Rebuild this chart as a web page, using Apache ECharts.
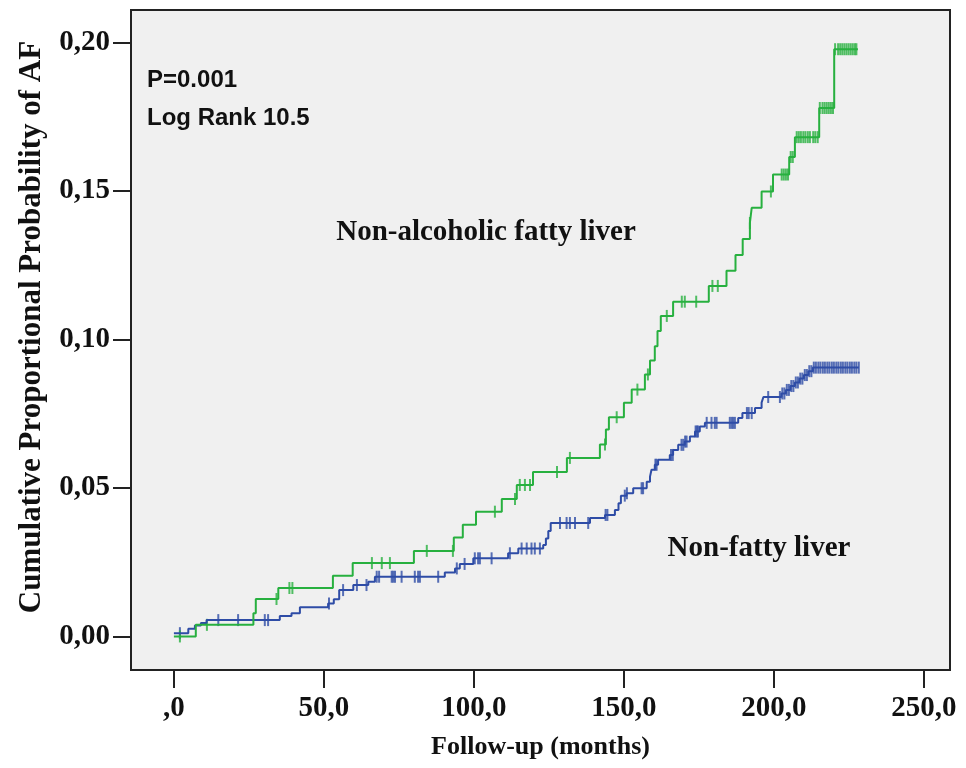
<!DOCTYPE html>
<html>
<head>
<meta charset="utf-8">
<script src="https://cdn.jsdelivr.net/npm/echarts@6/dist/echarts.min.js"></script>
<style>
  html, body { margin: 0; padding: 0; background: #ffffff; }
  #main { width: 966px; height: 768px; }
</style>
</head>
<body>
<div id="main"></div>
<script>
// ticks
var xTicks = [0, 50, 100, 150, 200, 250];
var xTickLabels = [',0', '50,0', '100,0', '150,0', '200,0', '250,0'];
var yTicks = [0, 0.05, 0.10, 0.15, 0.20];
var yTickLabels = ['0,00', '0,05', '0,10', '0,15', '0,20'];

// Non-alcoholic fatty liver: event times (months) and cumulative probability after each event
var nafldTimes = [0, 7.3, 26.5, 27.3, 34.8, 53, 59.6, 80, 93.3, 96.3, 100.7, 109.3, 114.3, 119.7, 131, 142, 144, 145,
  150, 152.6, 157, 158.7, 160.3, 161.2, 162.3, 166.4, 178.3, 184.2, 187.2, 189.6, 192, 192.6, 195.9, 199.7,
  205.1, 207, 215.1, 220.1, 228];
var nafldProb = [0, 0.0039, 0.0078, 0.0126, 0.0163, 0.0204, 0.0247, 0.0288, 0.0333, 0.0376, 0.042, 0.0463, 0.051, 0.0554, 0.0601, 0.0646, 0.0697, 0.0738,
  0.0787, 0.0831, 0.0882, 0.0929, 0.0977, 0.1028, 0.1079, 0.1127, 0.118, 0.1231, 0.1284, 0.1338, 0.1392, 0.1443, 0.1498, 0.1555,
  0.1614, 0.1681, 0.1779, 0.1977, 0.1977];
var nafldCensored = [2, 11, 34.2, 38.5, 39.5, 66, 69.3, 72, 84.3, 93, 107, 113.7, 115.3, 117, 118.7, 127.7, 132, 143.7,
  147.6, 154.5, 158, 164.3, 169.3, 170.3, 174.1, 179.5, 181.3, 192, 199,
  202.6, 203.3, 204, 204.7, 205.6, 206.3, 207.6, 208.3, 209, 209.8, 210.5, 211.3, 212, 213.1, 213.8, 214.6, 215.3,
  216.2, 216.9, 217.6, 218.3, 219, 219.7, 220.4, 221.4, 222.1, 222.8, 223.5, 224.2, 224.9, 225.6, 226.3, 227, 227.5];

// Non-fatty liver
var nonFattyTimes = [0, 4.8, 7, 9, 10.9, 35.3, 39.2, 42, 51.4, 53.3, 55.1, 59.8, 64.8, 67, 90.3, 93.7, 95.3, 99.8,
  111.4, 114.8, 123.1, 124, 124.8, 125.6, 138.7, 143.7, 147, 148.2, 149, 150.9, 153.1, 157.6, 158.7, 159.2, 160.3,
  161.4, 165.3, 166.4, 168.1, 170.3, 172, 173.7, 175.3, 177, 188.1, 189.5, 193.7, 195.9, 196.5,
  202.5, 204, 205.5, 207, 208.5, 210, 211.5, 213, 228.3];
var nonFattyProb = [0.0011, 0.0026, 0.0037, 0.0045, 0.0055, 0.0069, 0.0078, 0.0098, 0.0111, 0.0125, 0.0156, 0.0173, 0.0184, 0.0201, 0.0215, 0.0229, 0.0244, 0.0263,
  0.028, 0.0296, 0.0308, 0.033, 0.0355, 0.0382, 0.0399, 0.0409, 0.0426, 0.0448, 0.0474, 0.0482, 0.0499, 0.0521, 0.0538, 0.0561, 0.0578,
  0.0595, 0.0611, 0.0628, 0.0645, 0.0656, 0.0673, 0.069, 0.0707, 0.0719, 0.0735, 0.0752, 0.0769, 0.0787, 0.0806,
  0.0818, 0.083, 0.0843, 0.0855, 0.0868, 0.088, 0.0893, 0.0905, 0.0905];
var nonFattyCensored = [2, 14.8, 21.4, 30.3, 31.4, 51.7, 56.4, 61, 64.2, 67.6, 68.4, 72.6, 73.1, 73.7, 75.9, 80.3, 81.4, 82, 88.1,
  94.3, 96.9, 100.3, 101.4, 102, 105.9, 112, 115.9, 117.6, 119.2, 120.3, 122, 128.7, 130.9, 132, 133.7, 138.1,
  143.9, 144.5, 150.3, 151, 155.9, 156.4, 160.5, 160.9, 165.7, 166.3, 169.2, 169.8, 170.4, 170.9, 173.9, 174.3, 174.7,
  177.6, 179.2, 180.3, 180.9, 185.3, 185.9, 186.4, 187, 191, 191.6, 192.6, 198.1,
  202, 202.8, 203.5, 204.3, 205, 205.8, 206.5, 207.3, 208, 208.8, 209.5, 210.3, 211, 211.8, 212.5,
  213.3, 214, 214.8, 215.5, 216.3, 217, 217.8, 218.5, 219.3, 220, 220.8, 221.5, 222.3, 223, 223.8, 224.5, 225.3,
  226, 226.8, 227.5, 228.3];

var green = '#27b03f';
var blue = '#2e4ca6';
var serif = 'Liberation Serif';

function pairs(ts, ps) {
  var out = [];
  for (var i = 0; i < ts.length; i++) out.push([ts[i], ps[i]]);
  return out;
}
// level of the step curve at time t
function levelAt(ts, ps, t) {
  var v = ps[0];
  for (var i = 0; i < ts.length; i++) { if (ts[i] <= t) v = ps[i]; }
  return v;
}
function censorPoints(cs, ts, ps) {
  return cs.map(function (t) { return [t, levelAt(ts, ps, t)]; });
}

var chart = echarts.init(document.getElementById('main'));
var option = {
  animation: false,
  grid: {
    left: 131, top: 10, right: 16, bottom: 98,
    outerBoundsMode: 'none',
    containLabel: false,
    show: true,
    backgroundColor: '#f0f0f0',
    borderColor: '#222',
    borderWidth: 2
  },
  xAxis: {
    type: 'value',
    min: -14.3,
    max: 258.7,
    name: 'Follow-up (months)',
    nameLocation: 'middle',
    nameGap: 64,
    nameTextStyle: { fontFamily: serif, fontWeight: 'bold', fontSize: 26, color: '#111' },
    axisLine: { show: false, onZero: false },
    splitLine: { show: false },
    axisTick: { show: true, customValues: xTicks, length: 18, lineStyle: { color: '#222', width: 2 } },
    axisLabel: {
      customValues: xTicks,
      margin: 24,
      fontFamily: serif, fontWeight: 'bold', fontSize: 29, color: '#111',
      formatter: function (v) { return xTickLabels[xTicks.indexOf(v)]; }
    }
  },
  yAxis: {
    type: 'value',
    min: -0.0113,
    max: 0.2109,
    axisLine: { show: false, onZero: false },
    splitLine: { show: false },
    axisTick: { show: true, customValues: yTicks, length: 18, lineStyle: { color: '#222', width: 2 } },
    axisLabel: {
      customValues: yTicks,
      margin: 21,
      fontFamily: serif, fontWeight: 'bold', fontSize: 29, color: '#111',
      formatter: function (v) {
        for (var i = 0; i < yTicks.length; i++) { if (Math.abs(yTicks[i] - v) < 1e-9) return yTickLabels[i]; }
        return '';
      }
    }
  },
  graphic: [
    {
      type: 'text', x: 32, y: 327, rotation: Math.PI / 2,
      style: { text: 'Cumulative Proportional Probability of AF', align: 'center', verticalAlign: 'middle',
        font: 'bold 31px "Liberation Serif"', fill: '#111' }
    },
    {
      type: 'text', x: 147, y: 80,
      style: { text: 'P=0.001', align: 'left', verticalAlign: 'middle',
        font: 'bold 24px "Liberation Sans"', fill: '#111' }
    },
    {
      type: 'text', x: 147, y: 118,
      style: { text: 'Log Rank 10.5', align: 'left', verticalAlign: 'middle',
        font: 'bold 24px "Liberation Sans"', fill: '#111' }
    },
    {
      type: 'text', x: 486, y: 233,
      style: { text: 'Non-alcoholic fatty liver', align: 'center', verticalAlign: 'middle',
        font: 'bold 29px "Liberation Serif"', fill: '#111' }
    },
    {
      type: 'text', x: 759, y: 549,
      style: { text: 'Non-fatty liver', align: 'center', verticalAlign: 'middle',
        font: 'bold 29px "Liberation Serif"', fill: '#111' }
    }
  ],
  series: [
    {
      name: 'Non-fatty liver',
      type: 'line',
      step: 'end',
      showSymbol: false,
      silent: true,
      data: pairs(nonFattyTimes, nonFattyProb),
      lineStyle: { color: blue, width: 2 }
    },
    {
      name: 'Non-fatty liver censored',
      type: 'scatter',
      silent: true,
      symbol: 'rect',
      symbolSize: [2, 12],
      itemStyle: { color: blue },
      data: censorPoints(nonFattyCensored, nonFattyTimes, nonFattyProb)
    },
    {
      name: 'Non-alcoholic fatty liver',
      type: 'line',
      step: 'end',
      showSymbol: false,
      silent: true,
      data: pairs(nafldTimes, nafldProb),
      lineStyle: { color: green, width: 2 }
    },
    {
      name: 'Non-alcoholic fatty liver censored',
      type: 'scatter',
      silent: true,
      symbol: 'rect',
      symbolSize: [2, 12],
      itemStyle: { color: green },
      data: censorPoints(nafldCensored, nafldTimes, nafldProb)
    }
  ]
};
chart.setOption(option);
</script>
</body>
</html>
